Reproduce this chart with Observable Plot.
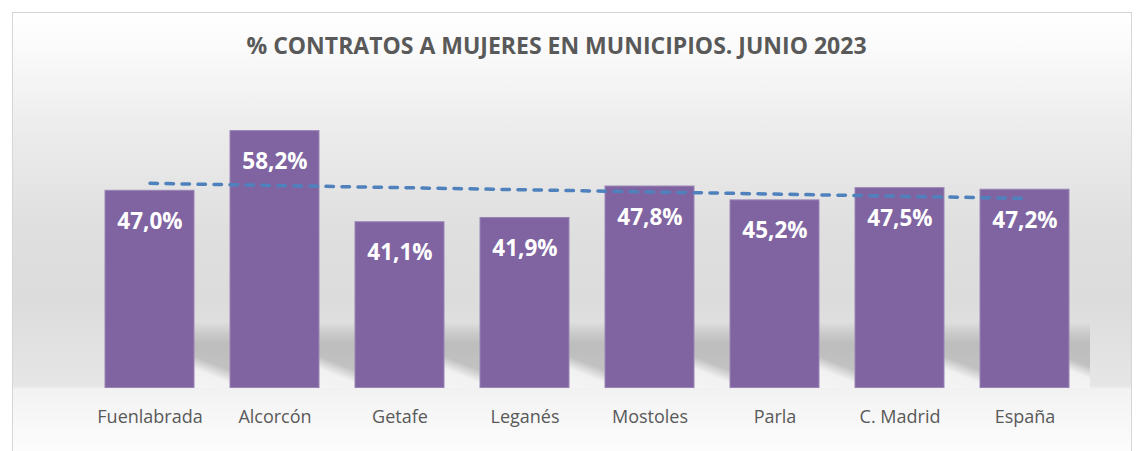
<!DOCTYPE html>
<html>
<head>
<meta charset="utf-8">
<script src="https://cdn.jsdelivr.net/npm/d3@7"></script>
<script src="https://cdn.jsdelivr.net/npm/@observablehq/plot@0.6"></script>
<style>
  html, body { margin: 0; padding: 0; background: #ffffff; }
  body { width: 1144px; height: 451px; overflow: hidden; position: relative; font-family: "Open Sans", sans-serif; }
  #frame {
    position: absolute; left: 12px; top: 12px; width: 1118px; height: 460px;
    border: 1.5px solid #d6d6d6;
    background: linear-gradient(to bottom, #ffffff 0px, #fafafa 37px, #ececec 117px, #dfdfdf 217px, #dcdcdc 287px, #e6e6e6 373px, #f2f2f2 376px, #fdfdfd 440px);
  }
  #shadows { position: absolute; left: 0; top: 0; width: 1144px; height: 451px; }
  .shadow {
    position: absolute;
    background:
      linear-gradient(22deg, rgba(244,244,244,1) 0%, rgba(244,244,244,0.95) 24%, rgba(244,244,244,0) 40%),
      linear-gradient(to bottom, rgba(0,0,0,0) 0px, rgba(0,0,0,0.10) 12px, rgba(0,0,0,0.16) 22px, rgba(0,0,0,0.15) 52px, rgba(0,0,0,0.10) 66px);
  }
  #wrap { position: absolute; left: 0; top: 0; width: 1144px; height: 451px; }
  #title {
    height: 40px; padding-top: 30px; width: 1113px;
    text-align: center; line-height: 31px;
    font-family: "Open Sans", sans-serif; font-weight: 700; font-size: 23px; color: #595959;
  }
  #chart svg { display: block; background: transparent; }
</style>
</head>
<body>
<div id="frame"></div>
<div id="shadows"></div>
<div id="wrap">
  <div id="title">% CONTRATOS A MUJERES EN MUNICIPIOS. JUNIO 2023</div>
  <div id="chart"></div>
</div>
<script>
const categories = ["Fuenlabrada", "Alcorcón", "Getafe", "Leganés", "Mostoles", "Parla", "C. Madrid", "España"];
const values = [47.0, 58.2, 41.1, 41.9, 47.8, 45.2, 47.5, 47.2];
const yDomain = [10, 60];

const data = categories.map((c, i) => ({cat: c, value: values[i]}));

// linear trend line (least squares over category index)
const xs = values.map((_, i) => i + 1);
const mx = d3.mean(xs), my = d3.mean(values);
const slope = d3.sum(xs, (x, i) => (x - mx) * (values[i] - my)) / d3.sum(xs, x => (x - mx) ** 2);
const intercept = my - slope * mx;
const trend = categories.map((c, i) => ({cat: c, fit: intercept + slope * (i + 1)}));

const fmt = v => v.toFixed(1).replace(".", ",") + "%";

const chart = Plot.plot({
  width: 1144,
  height: 381,
  marginTop: 51,
  marginBottom: 63.5,
  marginLeft: 87,
  marginRight: 56.5,
  style: {fontFamily: "Open Sans, sans-serif", background: "transparent", overflow: "visible"},
  x: {domain: categories, paddingInner: 0.288, paddingOuter: 0.144, label: null},
  y: {domain: yDomain, axis: null},
  marks: [
    Plot.barY(data, {x: "cat", y1: yDomain[0], y2: "value", fill: "#8064A2", stroke: "#9a86b6", strokeWidth: 1}),
    Plot.line(trend, {x: "cat", y: "fit", stroke: "#4F81BD", strokeWidth: 3.5, strokeDasharray: "7.5,8.5", strokeLinecap: "round"}),
    Plot.text(data, {x: "cat", y: "value", text: d => fmt(d.value), dy: 38, lineAnchor: "bottom", fill: "white", fontWeight: "bold", fontSize: 22.5}),
    Plot.axisX({tickSize: 0, tickPadding: 22, fontSize: 18, fill: "#595959", label: null})
  ]
});
document.getElementById("chart").appendChild(chart);

// floor shadows cast to the right of each bar, placed from the chart's own scales
const sx = chart.scale("x"), sy = chart.scale("y");
const offsetY = 70;
const base = sy.apply(yDomain[0]) + offsetY;
const shadowsEl = document.getElementById("shadows");
categories.forEach((c, i) => {
  const right = sx.apply(c) + sx.bandwidth;
  const nextLeft = i < categories.length - 1 ? sx.apply(categories[i + 1]) : right + 21;
  const el = document.createElement("div");
  el.className = "shadow";
  el.style.left = right + "px";
  el.style.width = (nextLeft - right) + "px";
  el.style.top = (base - 66) + "px";
  el.style.height = "66px";
  shadowsEl.appendChild(el);
});
</script>
</body>
</html>
